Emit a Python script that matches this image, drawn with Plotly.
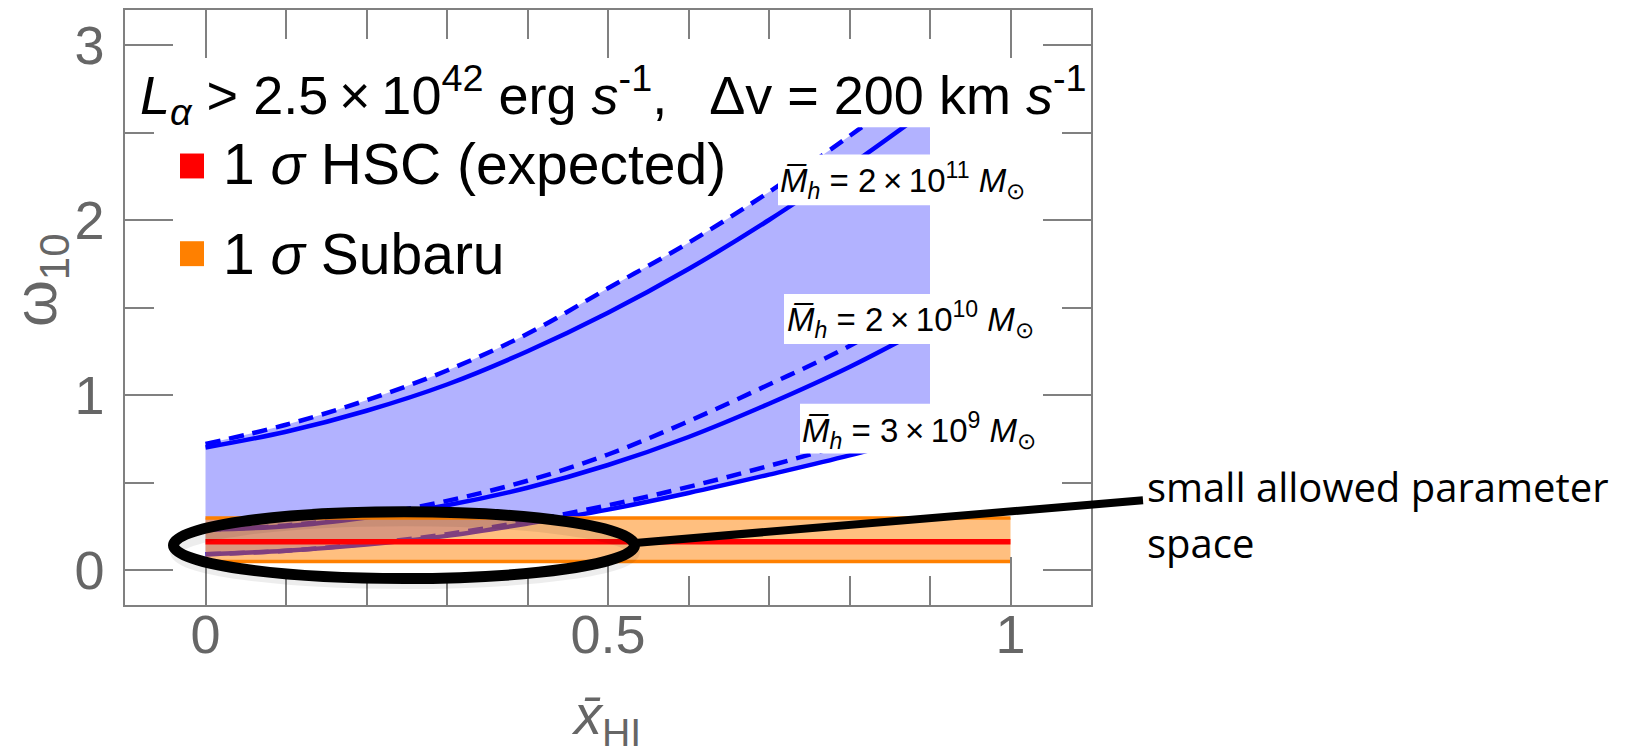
import plotly.graph_objects as go

# Neutral hydrogen fraction grid
x_hi = [0.0, 0.1, 0.2, 0.3, 0.4, 0.5, 0.6, 0.7, 0.8, 0.9]

# omega_10 for three mean halo masses (solid / dashed models)
w10_2e11_solid = [0.70, 0.79, 0.91, 1.06, 1.25, 1.47, 1.72, 2.00, 2.31, 2.64]
w10_2e11_dashed = [0.72, 0.83, 0.97, 1.14, 1.35, 1.61, 1.87, 2.16, 2.48, 2.82]
w10_2e10_solid = [0.23, 0.25, 0.30, 0.37, 0.47, 0.60, 0.76, 0.95, 1.16, 1.40]
w10_2e10_dashed = [0.23, 0.255, 0.31, 0.395, 0.51, 0.66, 0.85, 1.06, 1.28, 1.55]
w10_3e9_solid = [0.09, 0.11, 0.145, 0.195, 0.265, 0.345, 0.44, 0.545, 0.655, 0.78]
w10_3e9_dashed = [0.09, 0.11, 0.15, 0.205, 0.28, 0.37, 0.475, 0.595, 0.725, 0.87]

# Observational constraints
band_x = [0.0, 1.0]
subaru_low = [0.048, 0.048]
subaru_high = [0.297, 0.297]
hsc_expected = [0.162, 0.162]

# Upper limit of the model curves
curve_top = 2.53

x_range = [-0.1, 1.1]
y_range = [-0.2, 3.2]
x_ticks = [0, 0.5, 1]
x_ticktext = ["0", "0.5", "1"]
y_ticks = [0, 1, 2, 3]
y_ticktext = ["0", "1", "2", "3"]

BLUE = "#0000ff"
ORANGE = "#ff8000"
RED = "#ff0000"
GRAY = "#666666"
AXC = "#808080"

# page geometry (pixels)
W, H = 1650, 756
ML, MR, MT, MB = 125, 559, 8, 151
PW, PH = W - ML - MR, H - MT - MB


def px(X):
    return (X - ML) / PW


def py(Y):
    return (MT + PH - Y) / PH


fig = go.Figure()

# ---- model band (clipped subplot) ----
fig.add_trace(go.Scatter(x=x_hi, y=w10_3e9_solid, xaxis="x", yaxis="y", mode="lines",
                         line=dict(width=0, shape="spline"), hoverinfo="skip", showlegend=False))
fig.add_trace(go.Scatter(x=x_hi, y=w10_2e11_dashed, xaxis="x", yaxis="y", mode="lines",
                         line=dict(width=0, shape="spline"), fill="tonexty",
                         fillcolor="rgba(0,0,255,0.3)", hoverinfo="skip", showlegend=False))

for ys, dash in [(w10_2e11_solid, "solid"), (w10_2e11_dashed, "15px,9px"),
                 (w10_2e10_solid, "solid"), (w10_2e10_dashed, "15px,9px"),
                 (w10_3e9_solid, "solid"), (w10_3e9_dashed, "15px,9px")]:
    fig.add_trace(go.Scatter(x=x_hi, y=ys, xaxis="x", yaxis="y", mode="lines",
                             line=dict(color=BLUE, width=4.5, dash=dash, shape="spline"),
                             hoverinfo="skip", showlegend=False))

# ---- observational bands (main subplot, drawn on top) ----
fig.add_trace(go.Scatter(x=band_x, y=subaru_low, xaxis="x2", yaxis="y2", mode="lines",
                         line=dict(color=ORANGE, width=3.5), hoverinfo="skip", showlegend=False))
fig.add_trace(go.Scatter(x=band_x, y=subaru_high, xaxis="x2", yaxis="y2", mode="lines",
                         line=dict(color=ORANGE, width=3.5), fill="tonexty",
                         fillcolor="rgba(255,128,0,0.5)", hoverinfo="skip", showlegend=False))
fig.add_trace(go.Scatter(x=band_x, y=hsc_expected, xaxis="x2", yaxis="y2", mode="lines",
                         line=dict(color=RED, width=5.5), hoverinfo="skip", showlegend=False))

top_frac = (curve_top - y_range[0]) / (y_range[1] - y_range[0])

axis_common = dict(showline=True, linecolor=AXC, linewidth=1.5, mirror="ticks",
                   ticks="inside", tickcolor=AXC, tickwidth=1.5, ticklen=48,
                   showgrid=False, zeroline=False,
                   tickfont=dict(family="Liberation Sans", size=54, color=GRAY))

fig.update_layout(
    width=W, height=H,
    margin=dict(l=ML, r=MR, t=MT, b=MB),
    paper_bgcolor="white",
    plot_bgcolor="rgba(0,0,0,0)",
    font=dict(family="Liberation Sans", color="black"),
    showlegend=False,
    xaxis=dict(domain=[0, 1], range=x_range, visible=False, anchor="y"),
    yaxis=dict(domain=[0, top_frac], range=[y_range[0], curve_top], visible=False, anchor="x"),
    xaxis2=dict(domain=[0, 1], range=x_range, anchor="y2", tickvals=x_ticks, ticktext=x_ticktext,
                ticklabelstandoff=-19,
                minor=dict(tickvals=[0.1, 0.2, 0.3, 0.4, 0.6, 0.7, 0.8, 0.9], ticks="inside",
                           ticklen=29, tickcolor=AXC, tickwidth=1.5, showgrid=False),
                **axis_common),
    yaxis2=dict(domain=[0, 1], range=y_range, anchor="x2", tickvals=y_ticks, ticktext=y_ticktext,
                ticklabelstandoff=8,
                minor=dict(tickvals=[0.5, 1.5, 2.5], ticks="inside",
                           ticklen=29, tickcolor=AXC, tickwidth=1.5, showgrid=False),
                **axis_common),
)

shapes = []
# white backgrounds behind the halo-mass labels
for (x0, y0, y1) in [(778, 153, 204), (784, 293, 343), (800, 403, 453)]:
    shapes.append(dict(type="rect", xref="paper", yref="paper", layer="above",
                       x0=px(x0), x1=px(1000), y0=py(y1), y1=py(y0),
                       fillcolor="white", line=dict(width=0)))
# legend swatches
shapes.append(dict(type="rect", xref="paper", yref="paper", layer="above",
                   x0=px(180), x1=px(204), y0=py(177), y1=py(152),
                   fillcolor=RED, line=dict(width=0)))
shapes.append(dict(type="rect", xref="paper", yref="paper", layer="above",
                   x0=px(180), x1=px(204), y0=py(265), y1=py(240),
                   fillcolor=ORANGE, line=dict(width=0)))
# highlight ellipse with a faint shadow underneath, and pointer line
shapes.append(dict(type="circle", xref="paper", yref="paper", layer="above",
                   x0=px(176), x1=px(634), y0=py(583), y1=py(520),
                   line=dict(color="rgba(0,0,0,0.07)", width=12)))
shapes.append(dict(type="circle", xref="paper", yref="paper", layer="above",
                   x0=px(173.5), x1=px(634.5), y0=py(578.5), y1=py(511.5),
                   line=dict(color="black", width=11)))
shapes.append(dict(type="line", xref="paper", yref="paper", layer="above",
                   x0=px(632), y0=py(543), x1=px(1143), y1=py(500),
                   line=dict(color="black", width=8)))
fig.update_layout(shapes=shapes)

ann = []
# title line inside the frame
ann.append(dict(xref="paper", yref="paper", x=px(138), y=py(93.4), xanchor="left", yanchor="middle",
                showarrow=False, font=dict(size=54, color="black", family="Liberation Sans"),
                text="<i>L</i><sub><i>α</i></sub> &gt; 2.5\u2009×\u200910<sup>42</sup> erg <i>s</i><sup>-1</sup>,\u2002 Δv = 200 km <i>s</i><sup>-1</sup>"))
# legend labels
ann.append(dict(xref="paper", yref="paper", x=px(221), y=py(163), xanchor="left", yanchor="middle",
                showarrow=False, font=dict(size=57, color="black", family="Liberation Sans"),
                text="1 <i>σ</i> HSC (expected)"))
ann.append(dict(xref="paper", yref="paper", x=px(221), y=py(253), xanchor="left", yanchor="middle",
                showarrow=False, font=dict(size=57, color="black", family="Liberation Sans"),
                text="1 <i>σ</i> Subaru"))
# halo mass labels
for X, base, mant, ex in [(778, 191, "2", "11"), (785, 330, "2", "10"), (800, 441, "3", "9")]:
    ann.append(dict(xref="paper", yref="paper", x=px(X), y=py(base - 11.5), xanchor="left",
                    yanchor="middle", showarrow=False,
                    font=dict(size=33, color="black", family="Liberation Sans"),
                    text=f"<i>M\u0305</i><sub><i>h</i></sub> = {mant}\u2009×\u200910<sup>{ex}</sup> <i>M</i><sub>⊙</sub>"))
# side note
ann.append(dict(xref="paper", yref="paper", x=px(1145), y=py(486), xanchor="left", yanchor="middle",
                showarrow=False, font=dict(size=40, color="black", family="Open Sans"),
                text="small allowed parameter"))
ann.append(dict(xref="paper", yref="paper", x=px(1145), y=py(542), xanchor="left", yanchor="middle",
                showarrow=False, font=dict(size=40, color="black", family="Open Sans"),
                text="space"))
# axis titles
ann.append(dict(xref="paper", yref="paper", x=px(606), y=py(719), xanchor="center", yanchor="middle",
                showarrow=False, font=dict(size=56, color=GRAY, family="Liberation Sans"),
                text="<i>x\u0304</i><sub>HI</sub>"))
ann.append(dict(xref="paper", yref="paper", x=px(40), y=py(279), xanchor="center", yanchor="middle",
                showarrow=False, textangle=-90, font=dict(size=60, color=GRAY, family="Liberation Sans"),
                text="ω<sub>10</sub>"))
fig.update_layout(annotations=ann)

fig.write_html("out.html")
